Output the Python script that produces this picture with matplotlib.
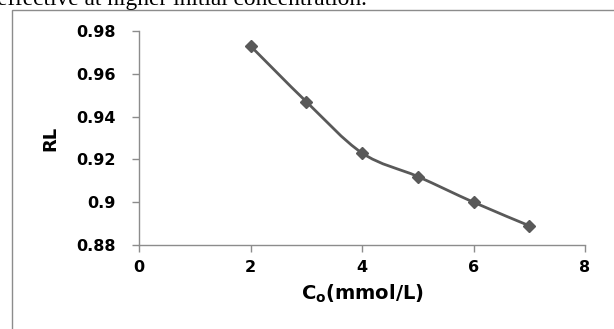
import numpy as np
import matplotlib
matplotlib.use("Agg")
import matplotlib.pyplot as plt
from matplotlib.path import Path
from matplotlib.patches import PathPatch, Rectangle

# ----------------------------
# Data
# ----------------------------
co = [2, 3, 4, 5, 6, 7]
rl = [0.973, 0.947, 0.923, 0.912, 0.900, 0.889]

x_ticks = [0, 2, 4, 6, 8]
y_ticks = [0.88, 0.90, 0.92, 0.94, 0.96, 0.98]
y_tick_labels = ["0.88", "0.9", "0.92", "0.94", "0.96", "0.98"]

GRAY = "#595959"
SPINE = "#8c8c8c"


def smooth_path(xs, ys, t=1 / 6):
    """Catmull-Rom style smoothed line (like Excel's 'smoothed line') as bezier path."""
    pts = np.column_stack([xs, ys]).astype(float)
    verts = [pts[0]]
    codes = [Path.MOVETO]
    n = len(pts)
    for i in range(n - 1):
        p0 = pts[i - 1] if i > 0 else pts[i]
        p1 = pts[i]
        p2 = pts[i + 1]
        p3 = pts[i + 2] if i + 2 < n else pts[i + 1]
        c1 = p1 + (p2 - p0) * t
        c2 = p2 - (p3 - p1) * t
        verts += [c1, c2, p2]
        codes += [Path.CURVE4] * 3
    return Path(verts, codes)


fig = plt.figure(figsize=(6.14, 3.29), dpi=100)
ax = fig.add_axes([0.2264, 0.2553, 0.7264, 0.6505])

# outer frame of the embedded chart
fig.patches.append(Rectangle((12 / 614, -0.2), 1.2, 1.2 - 10 / 329,
                             transform=fig.transFigure, fill=False,
                             edgecolor=SPINE, linewidth=1.0))

# text of the page cut off above the chart
fig.text(-3 / 614, 1 - 5 / 329, "effective at higher initial concentration.",
         family="Liberation Serif", fontsize=16.8, color="black",
         ha="left", va="baseline")

ax.add_patch(PathPatch(smooth_path(co, rl), fill=False, edgecolor=GRAY,
                       linewidth=2.0, zorder=2))
ax.plot(co, rl, linestyle="none", marker="D", markersize=6.5,
        color=GRAY, zorder=3)

ax.set_xlim(0, 8)
ax.set_ylim(0.88, 0.98)
ax.set_xticks(x_ticks)
ax.set_yticks(y_ticks)
ax.set_yticklabels(y_tick_labels)

for s in ["top", "right"]:
    ax.spines[s].set_visible(False)
for s in ["left", "bottom"]:
    ax.spines[s].set_color(SPINE)
    ax.spines[s].set_linewidth(1.0)

ax.tick_params(axis="both", direction="out", length=5, width=1, color=SPINE,
               labelsize=11.5)
ax.tick_params(axis="y", pad=12)
ax.tick_params(axis="x", pad=6)
for lab in ax.get_xticklabels() + ax.get_yticklabels():
    lab.set_fontweight("bold")

ax.set_xlabel("C$_\\mathregular{o}$(mmol/L)", fontsize=14, fontweight="bold",
              labelpad=5)
ax.set_ylabel("RL", fontsize=13, fontweight="bold", labelpad=12)

fig.savefig("out.png", dpi=100)
